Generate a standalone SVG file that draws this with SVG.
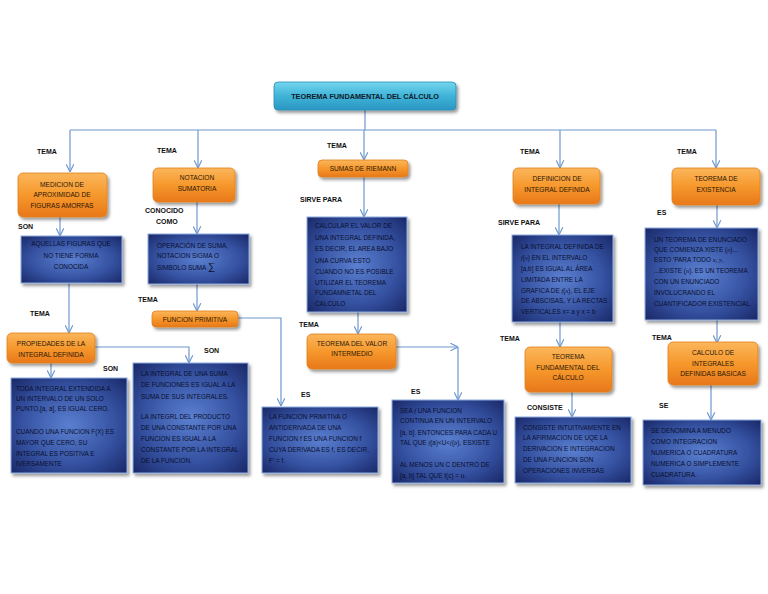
<svg xmlns="http://www.w3.org/2000/svg" width="768" height="594" viewBox="0 0 768 594">
<defs>
<style>
.lbl{font-family:"Liberation Sans",Arial,sans-serif;font-weight:bold;font-size:7px;fill:#111}
.ot{font-family:"Liberation Sans",Arial,sans-serif;font-size:6.6px;fill:#2a1705;text-anchor:middle}
.bt{font-family:"Liberation Sans",Arial,sans-serif;font-size:6.4px;fill:#0a0f2e}
.btc{font-family:"Liberation Sans",Arial,sans-serif;font-size:6.4px;fill:#0a0f2e;text-anchor:middle}
.conn{stroke:#6f98cf;stroke-width:1.2;fill:none}
.orange{fill:url(#og);stroke:#e0801f;stroke-width:0.8}
.blue{fill:url(#bg);stroke:#8eacdf;stroke-width:1}
.m{font-family:"Liberation Serif","Times New Roman",serif;font-style:italic}
</style>
<linearGradient id="og" x1="0" y1="0" x2="0" y2="1">
<stop offset="0" stop-color="#fbb65c"/>
<stop offset="0.5" stop-color="#f6982c"/>
<stop offset="1" stop-color="#e8781a"/>
</linearGradient>
<radialGradient id="bg" cx="0.5" cy="0.5" r="0.7">
<stop offset="0" stop-color="#5b7fd0"/>
<stop offset="0.6" stop-color="#34509f"/>
<stop offset="1" stop-color="#1a2868"/>
</radialGradient>
<linearGradient id="tg" x1="0" y1="0" x2="0" y2="1">
<stop offset="0" stop-color="#74d6ee"/>
<stop offset="0.5" stop-color="#3fb3d8"/>
<stop offset="1" stop-color="#2a97c2"/>
</linearGradient>
<filter id="sh" x="-10%" y="-10%" width="130%" height="140%">
<feDropShadow dx="2" dy="2.5" stdDeviation="1.5" flood-color="#000" flood-opacity="0.4"/>
</filter>
<marker id="ar" viewBox="0 0 10 10" refX="9.5" refY="5" markerWidth="9" markerHeight="9" markerUnits="userSpaceOnUse" orient="auto">
<path d="M1,0.8 L9.5,5 L1,9.2" fill="none" stroke="#6f98cf" stroke-width="1.3"/>
</marker>
</defs>
<rect width="768" height="594" fill="#ffffff"/>

<g id="connectors">
<path class="conn" d="M365,110 V130 M70,130 H716"/>
<path class="conn" d="M70,130 V172" marker-end="url(#ar)"/>
<path class="conn" d="M198,130 V168" marker-end="url(#ar)"/>
<path class="conn" d="M364,130 V160" marker-end="url(#ar)"/>
<path class="conn" d="M560,130 V168" marker-end="url(#ar)"/>
<path class="conn" d="M716,130 V168" marker-end="url(#ar)"/>
<path class="conn" d="M60,217 V236" marker-end="url(#ar)"/>
<path class="conn" d="M69,283 V333" marker-end="url(#ar)"/>
<path class="conn" d="M51,363 V378" marker-end="url(#ar)"/>
<path class="conn" d="M95,347 H189 V363" marker-end="url(#ar)"/>
<path class="conn" d="M197,202 V234" marker-end="url(#ar)"/>
<path class="conn" d="M197,284 V311" marker-end="url(#ar)"/>
<path class="conn" d="M238,318 H281 V406" marker-end="url(#ar)"/>
<path class="conn" d="M364,177 V217" marker-end="url(#ar)"/>
<path class="conn" d="M358,312 V334" marker-end="url(#ar)"/>
<path class="conn" d="M396,347 H458" marker-end="url(#ar)"/>
<path class="conn" d="M458,347 V400" marker-end="url(#ar)"/>
<path class="conn" d="M559,204 V235" marker-end="url(#ar)"/>
<path class="conn" d="M560,322 V347" marker-end="url(#ar)"/>
<path class="conn" d="M572,392 V417" marker-end="url(#ar)"/>
<path class="conn" d="M717,205 V228" marker-end="url(#ar)"/>
<path class="conn" d="M717,320 V343" marker-end="url(#ar)"/>
<path class="conn" d="M711,385 V420" marker-end="url(#ar)"/>
</g>

<g id="labels">
<text class="lbl" x="37" y="154">TEMA</text>
<text class="lbl" x="157" y="153">TEMA</text>
<text class="lbl" x="327" y="148">TEMA</text>
<text class="lbl" x="520" y="154">TEMA</text>
<text class="lbl" x="677" y="154">TEMA</text>
<text class="lbl" x="18" y="229">SON</text>
<text class="lbl" x="145" y="213">CONOCIDO</text>
<text class="lbl" x="156" y="224">COMO</text>
<text class="lbl" x="300" y="202">SIRVE PARA</text>
<text class="lbl" x="498" y="225">SIRVE PARA</text>
<text class="lbl" x="657" y="215">ES</text>
<text class="lbl" x="30" y="316">TEMA</text>
<text class="lbl" x="138" y="302">TEMA</text>
<text class="lbl" x="299" y="327">TEMA</text>
<text class="lbl" x="500" y="341">TEMA</text>
<text class="lbl" x="652" y="340">TEMA</text>
<text class="lbl" x="103" y="371">SON</text>
<text class="lbl" x="204" y="353">SON</text>
<text class="lbl" x="301" y="397">ES</text>
<text class="lbl" x="411" y="394">ES</text>
<text class="lbl" x="527" y="410">CONSISTE</text>
<text class="lbl" x="659" y="408">SE</text>
</g>

<g id="title">
<rect x="274" y="82" width="182" height="28" rx="4" fill="url(#tg)" stroke="#2b8db5" stroke-width="0.8" filter="url(#sh)"/>
<text x="365" y="99" text-anchor="middle" font-family="Liberation Sans,Arial,sans-serif" font-weight="bold" font-size="7.3" fill="#101a28">TEOREMA FUNDAMENTAL DEL CÁLCULO</text>
</g>

<g id="medicion">
<rect class="orange" x="18" y="173" width="89" height="44" rx="5" filter="url(#sh)"/>
<text class="ot" x="62" y="187">MEDICION DE</text>
<text class="ot" x="62" y="197">APROXIMIDAD DE</text>
<text class="ot" x="62" y="208">FIGURAS AMORFAS</text>
</g>

<g id="aquellas">
<rect class="blue" x="21" y="236" width="101" height="47" filter="url(#sh)"/>
<text class="btc" x="71" y="246">AQUELLAS FIGURAS QUE</text>
<text class="btc" x="71" y="258">NO TIENE FORMA</text>
<text class="btc" x="71" y="269">CONOCIDA</text>
</g>

<g id="notacion">
<rect class="orange" x="153" y="168" width="82" height="34" rx="5" filter="url(#sh)"/>
<text class="ot" x="197" y="180">NOTACION</text>
<text class="ot" x="197" y="191">SUMATORIA</text>
</g>

<g id="operacion">
<rect class="blue" x="148" y="234" width="101" height="50" filter="url(#sh)"/>
<text class="bt" x="157" y="248">OPERACIÓN DE SUMA,</text>
<text class="bt" x="157" y="258">NOTACION SIGMA O</text>
<text class="bt" x="157" y="270">SIMBOLO SUMA <tspan font-size="10">∑</tspan></text>
</g>

<g id="funcion-primitiva">
<rect class="orange" x="152" y="311" width="86" height="16" rx="4" filter="url(#sh)"/>
<text class="ot" x="195" y="321.5">FUNCION PRIMITIVA</text>
</g>

<g id="primitiva-def">
<rect class="blue" x="262" y="407" width="116" height="66" filter="url(#sh)"/>
<text class="bt" x="269" y="419">LA FUNCION PRIMITIVA O</text>
<text class="bt" x="269" y="430">ANTIDERIVADA DE UNA</text>
<text class="bt" x="269" y="441">FUNCION f ES UNA FUNCION f</text>
<text class="bt" x="269" y="452">CUYA DERIVADA ES f, ES DECIR,</text>
<text class="bt" x="269" y="463">F' = f.</text>
</g>

<g id="sumas">
<rect class="orange" x="318" y="160" width="90" height="17" rx="4" filter="url(#sh)"/>
<text class="ot" x="363" y="171">SUMAS DE RIEMANN</text>
</g>

<g id="calcular">
<rect class="blue" x="307" y="217" width="100" height="95" filter="url(#sh)"/>
<text class="bt" x="315" y="228">CALCULAR EL VALOR DE</text>
<text class="bt" x="315" y="240">UNA INTEGRAL DEFINIDA,</text>
<text class="bt" x="315" y="251">ES DECIR, EL AREA BAJO</text>
<text class="bt" x="315" y="263">UNA CURVA ESTO</text>
<text class="bt" x="315" y="274">CUANDO NO ES POSIBLE</text>
<text class="bt" x="315" y="285">UTILIZAR EL TEOREMA</text>
<text class="bt" x="315" y="295">FUNDAMNETAL DEL</text>
<text class="bt" x="315" y="306">CALCULO</text>
</g>

<g id="valor-intermedio">
<rect class="orange" x="307" y="334" width="89" height="35" rx="5" filter="url(#sh)"/>
<text class="ot" x="352" y="346">TEOREMA DEL VALOR</text>
<text class="ot" x="352" y="356">INTERMEDIO</text>
</g>

<g id="valor-def">
<rect class="blue" x="392" y="400" width="112" height="83" filter="url(#sh)"/>
<text class="bt" x="400" y="413">SEA <tspan class="m">f</tspan> UNA FUNCION</text>
<text class="bt" x="400" y="423">CONTINUA EN UN INTERVALO</text>
<text class="bt" x="400" y="435">[a, b]. ENTONCES PARA CADA U</text>
<text class="bt" x="400" y="445">TAL QUE <tspan class="m">f</tspan>(a)&lt;U&lt;<tspan class="m">f</tspan>(<tspan class="m">b</tspan>), ESXISTE</text>
<text class="bt" x="400" y="467">AL MENOS UN C DENTRO DE</text>
<text class="bt" x="400" y="478">[a, b] TAL QUE f(c) = u.</text>
</g>

<g id="definicion">
<rect class="orange" x="513" y="168" width="87" height="36" rx="5" filter="url(#sh)"/>
<text class="ot" x="557" y="181">DEFINICION DE</text>
<text class="ot" x="557" y="192">INTEGRAL DEFINIDA</text>
</g>

<g id="definicion-def">
<rect class="blue" x="512" y="235" width="101" height="87" filter="url(#sh)"/>
<text class="bt" x="521" y="249">LA INTEGRAL DEFINIDA DE</text>
<text class="bt" x="521" y="260"><tspan class="m">f</tspan>(<tspan class="m">x</tspan>) EN EL INTERVALO</text>
<text class="bt" x="521" y="271">[a,b] ES IGUAL AL ÁREA</text>
<text class="bt" x="521" y="282">LIMITADA ENTRE LA</text>
<text class="bt" x="521" y="293">GRAFICA DE <tspan class="m">f</tspan>(<tspan class="m">x</tspan>), EL EJE</text>
<text class="bt" x="521" y="303">DE ABSCISAS, Y LA RECTAS</text>
<text class="bt" x="521" y="314">VERTICALES x= a y x = b</text>
</g>

<g id="tfc">
<rect class="orange" x="525" y="347" width="87" height="45" rx="5" filter="url(#sh)"/>
<text class="ot" x="568" y="359">TEOREMA</text>
<text class="ot" x="568" y="370">FUNDAMENTAL DEL</text>
<text class="ot" x="568" y="380">CÁLCULO</text>
</g>

<g id="consiste">
<rect class="blue" x="515" y="417" width="116" height="66" filter="url(#sh)"/>
<text class="bt" x="523" y="430">CONSISTE INTUITIVAMENTE EN</text>
<text class="bt" x="523" y="440">LA AFIRMACION DE UQE LA</text>
<text class="bt" x="523" y="451">DERIVACION E INTEGRACION</text>
<text class="bt" x="523" y="462">DE UNA FUNCION SON</text>
<text class="bt" x="523" y="473">OPERACIONES INVERSAS</text>
</g>

<g id="existencia">
<rect class="orange" x="672" y="168" width="88" height="37" rx="5" filter="url(#sh)"/>
<text class="ot" x="716" y="181">TEOREMA DE</text>
<text class="ot" x="716" y="192">EXISTENCIA</text>
</g>

<g id="existencia-def">
<rect class="blue" x="645" y="228" width="113" height="92" filter="url(#sh)"/>
<text class="bt" x="654" y="242">UN TEOREMA DE ENUNCIADO</text>
<text class="bt" x="654" y="252">QUE COMIENZA XISTE (<tspan class="m">n</tspan>)...</text>
<text class="bt" x="654" y="262">ESTO  'PARA TODO <tspan class="m">x</tspan>, <tspan class="m">y</tspan>,</text>
<text class="bt" x="654" y="273">...EXISTE (<tspan class="m">n</tspan>). ES UN TEOREMA</text>
<text class="bt" x="654" y="284">CON UN ENUNCIADO</text>
<text class="bt" x="654" y="295">INVOLUCRANDO EL</text>
<text class="bt" x="654" y="306">CUANTIFICADOR EXISTENCIAL.</text>
</g>

<g id="calculo-basicas">
<rect class="orange" x="668" y="342" width="90" height="43" rx="5" filter="url(#sh)"/>
<text class="ot" x="713" y="355">CALCULO DE</text>
<text class="ot" x="713" y="366">INTEGRALES</text>
<text class="ot" x="713" y="376">DEFINIDAS BASICAS</text>
</g>

<g id="cuadratura">
<rect class="blue" x="643" y="420" width="118" height="65" filter="url(#sh)"/>
<text class="bt" x="651" y="433">SE DENOMINA A MENUDO</text>
<text class="bt" x="651" y="444">COMO INTEGRACION</text>
<text class="bt" x="651" y="455">NUMERICA O CUADRATURA</text>
<text class="bt" x="651" y="466">NUMERICA O SIMPLEMENTE</text>
<text class="bt" x="651" y="477">CUADRATURA.</text>
</g>

<g id="propiedades">
<rect class="orange" x="7" y="333" width="88" height="30" rx="5" filter="url(#sh)"/>
<text class="ot" x="51" y="346">PROPIEDADES DE LA</text>
<text class="ot" x="51" y="357">INTEGRAL DEFINIDA</text>
</g>

<g id="prop1">
<rect class="blue" x="11" y="378" width="116" height="95" filter="url(#sh)"/>
<text class="bt" x="16" y="391">TODA INTEGRAL EXTENDIDA A</text>
<text class="bt" x="16" y="401">UN INTERVALO DE UN SOLO</text>
<text class="bt" x="16" y="411">PUNTO,[a, a], ES IGUAL CERO.</text>
<text class="bt" x="16" y="434">CUANDO UNA FUNCION F(X) ES</text>
<text class="bt" x="16" y="445">MAYOR QUE CERO, SU</text>
<text class="bt" x="16" y="456">INTEGRAL ES POSITIVA E</text>
<text class="bt" x="16" y="466">IVERSAMENTE</text>
</g>

<g id="prop2">
<rect class="blue" x="133" y="363" width="115" height="110" filter="url(#sh)"/>
<text class="bt" x="141" y="376">LA  INTEGRAL DE UNA SUMA</text>
<text class="bt" x="141" y="387">DE FUNCIONES ES IGUAL A LA</text>
<text class="bt" x="141" y="399">SUMA  DE SUS INTEGRALES.</text>
<text class="bt" x="141" y="419">LA INTEGRL DEL PRODUCTO</text>
<text class="bt" x="141" y="430">DE UNA CONSTANTE  POR UNA</text>
<text class="bt" x="141" y="441">FUNCION ES IGUAL A LA</text>
<text class="bt" x="141" y="452">CONSTANTE POR LA INTEGRAL</text>
<text class="bt" x="141" y="463">DE LA FUNCION.</text>
</g>
</svg>
